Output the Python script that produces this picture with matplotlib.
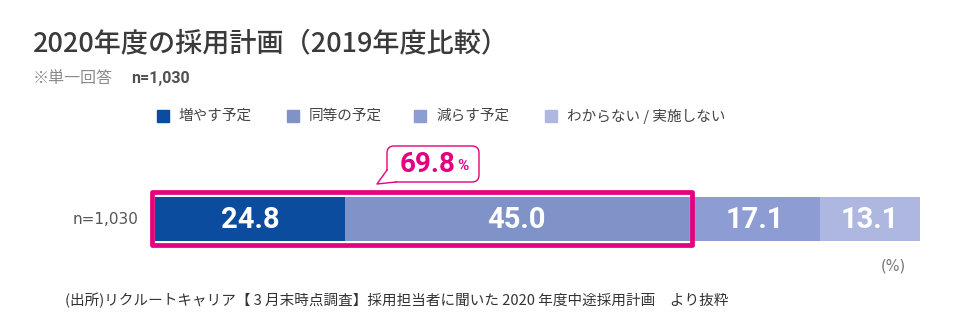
import matplotlib.pyplot as plt
from matplotlib.patches import Rectangle, FancyBboxPatch, Polygon

plt.rcParams['font.family'] = ['Noto Sans CJK JP', 'DejaVu Sans']

# 2020年度の採用計画 (n=1,030)
categories = ['増やす予定', '同等の予定', '減らす予定', 'わからない / 実施しない']
values = [24.8, 45.0, 17.1, 13.1]
colors = ['#0B4C9E', '#7F93C9', '#8D9DD3', '#AEB7E0']
row_label = 'n=1,030'
increase_or_same = 69.8

PINK = '#E4007F'
NARROW = ['Roboto', 'DejaVu Sans']

fig = plt.figure(figsize=(9.6, 3.3), dpi=100)

# overlay in pixel coordinates for titles, legend and notes
ov = fig.add_axes([0, 0, 1, 1])
ov.set_xlim(0, 960)
ov.set_ylim(330, 0)
ov.axis('off')

# bar axes
W, H = 960, 330
bx0, bx1, by0, by1 = 155, 920, 197, 241
ax = fig.add_axes([bx0 / W, 1 - by1 / H, (bx1 - bx0) / W, (by1 - by0) / H])
ax.set_xlim(0, sum(values))
ax.set_ylim(-0.5, 0.5)
ax.axis('off')

left = 0
for v, c in zip(values, colors):
    ax.barh(0, v, left=left, height=1.0, color=c, edgecolor='none')
    ax.text(left + v / 2, -0.02, f'{v:.1f}', ha='center', va='center',
            color='white', fontsize=21, fontweight='bold', family=NARROW)
    left += v

# highlight frame round the first two segments
ax.add_patch(Rectangle((-0.45, -0.6), increase_or_same + 0.85, 1.22,
                       fill=False, edgecolor=PINK, linewidth=3.4,
                       joinstyle='round', clip_on=False))

# titles
ov.text(33, 44, '2020年度の採用計画（2019年度比較）', fontsize=19.5,
        fontweight='medium', color='#3A3A3A', va='center')
ov.text(33, 78, '※単一回答', fontsize=11.5, color='#8A8A8A', va='center')
ov.text(131, 78, 'n=1,030', fontsize=11.5, color='#505050', va='center',
        fontweight='bold', family=NARROW)

# legend
leg_x = [157, 287, 414, 545]
for x, c, lab in zip(leg_x, colors, categories):
    ov.add_patch(Rectangle((x, 110), 12, 12, color=c))
    ov.text(x + 22, 116, lab, fontsize=10.5, color='#444444', va='center')

# row label and unit
ov.text(138, 219, row_label, fontsize=11, color='#555555', ha='right', va='center',
        family=['DejaVu Sans'])
ov.text(906, 266, '(%)', fontsize=10.5, color='#777777', ha='right', va='center',
        family=['DejaVu Sans'])

# callout with the combined share
ov.add_patch(FancyBboxPatch((387, 146), 92, 36, boxstyle='round,pad=0,rounding_size=7',
                            facecolor='white', edgecolor=PINK, linewidth=1.0))
ov.add_patch(Polygon([(387, 170), (377, 184), (396, 182)], closed=True,
                     facecolor='white', edgecolor='none'))
ov.plot([387, 377, 396], [170, 184, 182], color=PINK, linewidth=1.0,
        solid_joinstyle='round')
ov.text(400, 164, f'{increase_or_same:.1f}', fontsize=20, fontweight='bold',
        color=PINK, ha='left', va='center', family=NARROW)
ov.text(457, 166, '%', fontsize=11, fontweight='bold', color=PINK, ha='left',
        va='center', family=NARROW)

# source note
ov.text(65, 300, '(出所)リクルートキャリア【 3 月末時点調査】採用担当者に聞いた 2020 年度中途採用計画　より抜粋',
        fontsize=10.5, color='#333333', va='center')

fig.savefig('out.png', dpi=100)
